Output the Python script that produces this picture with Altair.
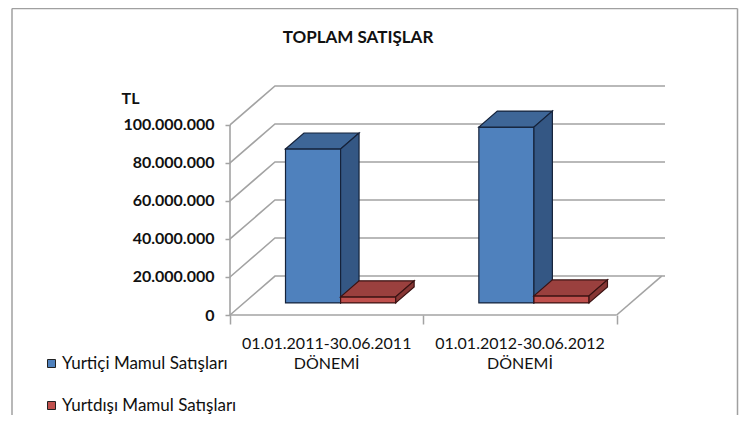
import altair as alt
import pandas as pd

# ---- data ----
categories = ["01.01.2011-30.06.2011\nDÖNEMİ", "01.01.2012-30.06.2012\nDÖNEMİ"]
series = ["Yurtiçi Mamul Satışları", "Yurtdışı Mamul Satışları"]
yurtici = [81_000_000, 92_500_000]
yurtdisi = [3_200_000, 3_700_000]
y_ticks = [0, 20_000_000, 40_000_000, 60_000_000, 80_000_000, 100_000_000]
title_text = "TOPLAM SATIŞLAR"
y_title = "TL"

# ---- 3D oblique geometry (style constants) ----
DX = 0.2326          # full floor depth, in category units
DY = 20_500_000      # full floor depth, in value units
F1, F2 = 0.31, 0.72  # bar depth slot (front/back fraction of floor depth)
BAR_OFF, BAR_W = 0.215, 0.285
XMAX = 2.25
YMAX = 121_000_000

front_cols = ["#4F81BD", "#C0504D"]
top_cols = ["#3E6697", "#9A403E"]
side_cols = ["#345784", "#873634"]
edge_cols = ["#15223A", "#3A1212"]
GRID = "#A3A3A3"
FONT = "Lato"

values = [yurtici, yurtdisi]

front_rows, top_rows, side_rows = [], [], []
for s, name in enumerate(series):
    for c, cat in enumerate(categories):
        v = values[s][c]
        x0 = c + BAR_OFF + s * BAR_W + F1 * DX
        x1 = x0 + BAR_W
        yb = F1 * DY
        yt = yb + v
        bx = (F2 - F1) * DX
        by = (F2 - F1) * DY
        fid = f"f{s}{c}"
        front_rows.append(dict(series=name, s=s, x0=x0, x1=x1, ylo=yb, yhi=yt, value=v))
        # top face (parallelogram) as vertical cross-sections
        top_rows += [dict(s=s, face=fid, x=x0, ylo=yt, yhi=yt),
                     dict(s=s, face=fid, x=x0 + bx, ylo=yt, yhi=yt + by),
                     dict(s=s, face=fid, x=x1, ylo=yt, yhi=yt + by),
                     dict(s=s, face=fid, x=x1 + bx, ylo=yt + by, yhi=yt + by)]
        # right side face
        side_rows += [dict(s=s, face=fid, x=x1, ylo=yb, yhi=yt),
                      dict(s=s, face=fid, x=x1 + bx, ylo=yb + by, yhi=yt + by)]

front_df = pd.DataFrame(front_rows)
top_df = pd.DataFrame(top_rows)
side_df = pd.DataFrame(side_rows)

# structural lines: wall/floor gridlines, floor edges, front value axis
line_rows = []
for v in y_ticks:
    line_rows += [dict(g=f"g{v}", k=0, x=0, y=v),
                  dict(g=f"g{v}", k=1, x=DX, y=v + DY),
                  dict(g=f"g{v}", k=2, x=XMAX, y=v + DY)]
n_cat = len(categories)
line_rows += [dict(g="floor_front", k=0, x=0, y=0), dict(g="floor_front", k=1, x=n_cat, y=0)]
line_rows += [dict(g="floor_right", k=0, x=n_cat, y=0), dict(g="floor_right", k=1, x=n_cat + DX, y=DY)]
line_rows += [dict(g="axis", k=0, x=0, y=0), dict(g="axis", k=1, x=0, y=max(y_ticks))]
lines_df = pd.DataFrame(line_rows)

cat_df = pd.DataFrame({"label": categories, "xc": [c + 0.5 for c in range(n_cat)], "y0": [0] * n_cat})

xscale = alt.Scale(domain=[0, XMAX], nice=False, zero=False)
yscale = alt.Scale(domain=[0, YMAX], nice=False)

x_axis = alt.Axis(values=list(range(n_cat + 1)), labels=False, domain=False, grid=False,
                  tickSize=9, tickColor=GRID, tickWidth=1.5, title=None)
y_axis = alt.Axis(values=y_ticks, domain=False, grid=False, tickSize=5, tickColor=GRID,
                  tickWidth=1.5,
                  labelExpr="replace(replace(format(datum.value, ',d'), ',', '.'), ',', '.')",
                  labelFont=FONT, labelFontSize=16, labelFontWeight="bold", labelColor="#111",
                  labelPadding=11,
                  title=y_title, titleAngle=0, titleX=-100, titleY=18, titleAlign="center",
                  titleBaseline="alphabetic", titleFont=FONT, titleFontSize=16,
                  titleFontWeight="bold", titleColor="#111")


def X(field):
    return alt.X(field, scale=xscale, axis=x_axis)


def Y(field):
    return alt.Y(field, scale=yscale, axis=y_axis)


lines = alt.Chart(lines_df).mark_line(color=GRID, strokeWidth=1.6).encode(
    x=X("x:Q"), y=Y("y:Q"), detail="g:N", order="k:O",
)

color_scale = alt.Scale(domain=series, range=front_cols)
legend = alt.Legend(orient="none", legendX=-187, legendY=270, title=None, symbolType="square",
                    symbolSize=64, symbolStrokeWidth=1, symbolStrokeColor="#222",
                    labelFont=FONT, labelFontSize=17, labelColor="#111", labelOffset=2,
                    rowPadding=24, padding=0, labelLimit=400)

bar_layers = []
for s in range(len(series)):
    f = alt.Chart(front_df[front_df.s == s]).mark_rect(stroke=edge_cols[s], strokeWidth=1.2).encode(
        x=X("x0:Q"), x2="x1:Q", y=Y("ylo:Q"), y2="yhi:Q",
        color=alt.Color("series:N", scale=color_scale, legend=legend),
    )
    t = alt.Chart(top_df[top_df.s == s]).mark_area(
        orient="vertical", fill=top_cols[s], stroke=edge_cols[s], strokeWidth=1.2).encode(
        x=X("x:Q"), y=Y("ylo:Q"), y2="yhi:Q", detail="face:N",
    )
    sd = alt.Chart(side_df[side_df.s == s]).mark_area(
        orient="vertical", fill=side_cols[s], stroke=edge_cols[s], strokeWidth=1.2).encode(
        x=X("x:Q"), y=Y("ylo:Q"), y2="yhi:Q", detail="face:N",
    )
    bar_layers += [f, t, sd]

cat_text = alt.Chart(cat_df).mark_text(
    font=FONT, fontSize=16, color="#111", lineBreak="\n", lineHeight=20,
    baseline="alphabetic", align="center", dy=34).encode(
    x=X("xc:Q"), y=Y("y0:Q"), text="label:N",
)

title_df = pd.DataFrame({"t": [title_text]})
title = alt.Chart(title_df).mark_text(
    font=FONT, fontSize=17, fontWeight="bold", color="#111", align="center",
    baseline="alphabetic").encode(
    x=alt.value(128), y=alt.value(-42), text="t:N")

bdf = pd.DataFrame({"b": [0]})
BORDER = "#A0A0A0"
border_l = alt.Chart(bdf).mark_rule(color=BORDER, strokeWidth=1.5).encode(
    x=alt.value(-218), y=alt.value(-76.5), y2=alt.value(340))
border_r = alt.Chart(bdf).mark_rule(color=BORDER, strokeWidth=1.5).encode(
    x=alt.value(507.5), y=alt.value(-76.5), y2=alt.value(340))
border_t = alt.Chart(bdf).mark_rule(color=BORDER, strokeWidth=1.5).encode(
    x=alt.value(-218), x2=alt.value(507.5), y=alt.value(-76.5))

chart = alt.layer(
    lines, *bar_layers, cat_text, title, border_l, border_r, border_t
).properties(
    width=435, height=230,
    padding={"left": 222, "top": 77, "right": 74, "bottom": 100},
    autosize=alt.AutoSizeParams(type="none"),
    background="white",
).configure_view(stroke=None)

chart.save("out.html", embed_options={"renderer": "svg", "actions": False})
